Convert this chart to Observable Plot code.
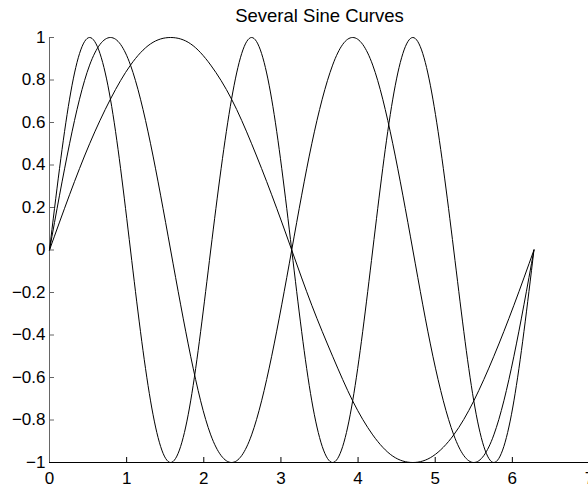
<!DOCTYPE html>
<html>
<head>
<meta charset="utf-8">
<script src="https://cdn.jsdelivr.net/npm/d3@7"></script>
<script src="https://cdn.jsdelivr.net/npm/@observablehq/plot@0.6"></script>
<style>
  html, body { margin: 0; padding: 0; background: #fff; overflow: hidden; }
</style>
</head>
<body>
<div id="chart"></div>
<script>
const title = "Several Sine Curves";

// sample positions along x (every ~0.26)
const xs = [0, 0.26, 0.52, 0.79, 1.05, 1.31, 1.57, 1.83, 2.09, 2.36, 2.62, 2.88, 3.14,
            3.40, 3.67, 3.93, 4.19, 4.45, 4.71, 4.97, 5.24, 5.50, 5.76, 6.02, 6.28];

// widest curve (one period)
const curveA = [0, 0.26, 0.50, 0.71, 0.87, 0.97, 1.00, 0.97, 0.87, 0.71, 0.50, 0.26, 0,
                -0.26, -0.50, -0.71, -0.87, -0.97, -1.00, -0.97, -0.87, -0.71, -0.50, -0.26, 0];
// middle curve (two periods)
const curveB = [0, 0.50, 0.87, 1.00, 0.87, 0.50, 0, -0.50, -0.87, -1.00, -0.87, -0.50, 0,
                0.50, 0.87, 1.00, 0.87, 0.50, 0, -0.50, -0.87, -1.00, -0.87, -0.50, 0];
// narrowest curve (three periods)
const curveC = [0, 0.71, 1.00, 0.71, 0, -0.71, -1.00, -0.71, 0, 0.71, 1.00, 0.71, 0,
                -0.71, -1.00, -0.71, 0, 0.71, 1.00, 0.71, 0, -0.71, -1.00, -0.71, 0];

const xTicks = [0, 1, 2, 3, 4, 5, 6, 7];
const xTickLabels = ["0", "1", "2", "3", "4", "5", "6", "7"];
const yTicks = [-1, -0.8, -0.6, -0.4, -0.2, 0, 0.2, 0.4, 0.6, 0.8, 1];
const yTickLabels = ["\u22121", "\u22120.8", "\u22120.6", "\u22120.4", "\u22120.2", "0",
                     "0.2", "0.4", "0.6", "0.8", "1"];

const series = [curveA, curveB, curveC];
const rows = series.flatMap((ys, k) => xs.map((x, i) => ({x, y: ys[i], k})));

const font = "'Liberation Sans', Arial, Helvetica, sans-serif";

const chart = Plot.plot({
  width: 588,
  height: 488,
  marginLeft: 49,
  marginRight: -1,
  marginTop: 37,
  marginBottom: 26,
  style: {fontFamily: font, fontSize: "17px", background: "transparent", color: "#000"},
  x: {domain: [0, 7]},
  y: {domain: [-1, 1]},
  marks: [
    Plot.axisX({ticks: xTicks, tickSize: -5, tickPadding: 14, stroke: "#000",
                tickFormat: d => xTickLabels[xTicks.indexOf(d)], label: null}),
    Plot.axisY({ticks: yTicks, tickSize: -5, tickPadding: 9, stroke: "#666",
                tickFormat: d => yTickLabels[yTicks.indexOf(d)], label: null}),
    Plot.ruleX([0], {stroke: "#666", strokeWidth: 1}),
    Plot.ruleY([-1], {stroke: "#000", strokeWidth: 1}),
    Plot.line(rows, {x: "x", y: "y", z: "k", stroke: "#000", strokeWidth: 1, curve: "natural"}),
    Plot.text([title], {frameAnchor: "top", lineAnchor: "bottom", dy: -16,
                        fontSize: 18.5, fill: "#000"})
  ]
});
document.getElementById("chart").appendChild(chart);
</script>
</body>
</html>
